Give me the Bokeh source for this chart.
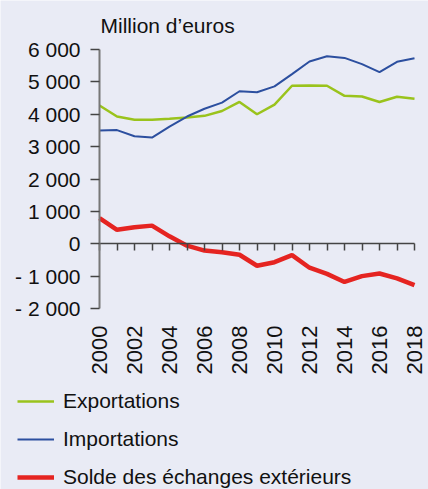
import math
from bokeh.plotting import figure
from bokeh.models import (Range1d, LinearAxis, FixedTicker, Legend, LegendItem, Label)
from bokeh.embed import file_html
from bokeh.resources import INLINE

years = list(range(2000, 2019))
exportations = [4270, 3930, 3830, 3830, 3860, 3900, 3950, 4100, 4380, 4000,
                4300, 4880, 4890, 4880, 4570, 4550, 4380, 4540, 4480]
importations = [3500, 3510, 3320, 3280, 3620, 3930, 4170, 4360, 4710, 4680,
                4860, 5240, 5630, 5790, 5740, 5550, 5300, 5620, 5730]
solde = [790, 430, 510, 560, 230, -60, -210, -260, -340, -680,
         -570, -350, -740, -930, -1180, -1000, -920, -1070, -1280]

y_ticks = [-2000, -1000, 0, 1000, 2000, 3000, 4000, 5000, 6000]
y_tick_labels = ["- 2 000", "- 1 000", "0", "1 000", "2 000", "3 000", "4 000", "5 000", "6 000"]
x_label_ticks = list(range(2000, 2019, 2))
series_names = ["Exportations", "Importations", "Solde des échanges extérieurs"]
unit_label = "Million d’euros"

BG = "#e9ebf5"
FONT = "Liberation Sans"

# layout geometry (pixels)
W, H = 428, 489
AX_TOP_PX, AX_BOTTOM_PX = 49, 308
AX_LEFT_PX, AX_RIGHT_PX = 99, 414
x0, x1 = years[0], years[-1]
ymin, ymax = y_ticks[0], y_ticks[-1]
px_per_x = (AX_RIGHT_PX - AX_LEFT_PX) / (x1 - x0)
px_per_y = (AX_BOTTOM_PX - AX_TOP_PX) / (ymax - ymin)
x_start = x0 - AX_LEFT_PX / px_per_x
x_end = x1 + (W - AX_RIGHT_PX) / px_per_x
y_start = ymin - (H - AX_BOTTOM_PX) / px_per_y
y_end = ymax + AX_TOP_PX / px_per_y

p = figure(width=W, height=H, output_backend="svg", toolbar_location=None,
           x_range=Range1d(x_start, x_end), y_range=Range1d(y_start, y_end),
           min_border_left=0, min_border_right=0, min_border_top=0, min_border_bottom=0,
           background_fill_color=BG, border_fill_color=BG, outline_line_color=None)

p.xgrid.grid_line_color = None
p.ygrid.grid_line_color = None

# unit label above the value axis
p.add_layout(Label(x=x0, y=ymax, x_offset=1, y_offset=24, text=unit_label,
                   text_font=FONT, text_font_size="21px", text_color="#111111",
                   text_baseline="middle", text_align="left"))

# y axis
ya = p.yaxis[0]
ya.fixed_location = x0
ya.bounds = (ymin, ymax)
ya.ticker = FixedTicker(ticks=y_ticks)
ya.major_label_overrides = {t: l for t, l in zip(y_ticks, y_tick_labels)}
ya.axis_line_color = "#777777"
ya.axis_line_width = 2
ya.major_tick_line_color = "#444444"
ya.major_tick_line_width = 1.5
ya.major_tick_out = 9
ya.major_tick_in = 0
ya.minor_tick_line_color = None
ya.major_label_text_font = FONT
ya.major_label_text_font_size = "21px"
ya.major_label_text_color = "#111111"
ya.major_label_standoff = 10

# x axis at zero with yearly ticks
xa = p.xaxis[0]
xa.fixed_location = 0
xa.bounds = (x0, x1)
xa.ticker = FixedTicker(ticks=years)
xa.axis_line_color = "#444444"
xa.axis_line_width = 1.5
xa.major_tick_line_color = "#444444"
xa.major_tick_line_width = 1.5
xa.major_tick_out = 7
xa.major_tick_in = 0
xa.minor_tick_line_color = None
xa.major_label_text_font_size = "1px"
xa.major_label_text_color = None
xa.major_label_standoff = 0

# year labels under the bottom of the value axis
xl = LinearAxis(ticker=FixedTicker(ticks=x_label_ticks), fixed_location=ymin, bounds=(x0, x1))
xl.axis_line_color = None
xl.major_tick_line_color = None
xl.minor_tick_line_color = None
xl.major_label_orientation = math.pi / 2
xl.major_label_text_font = FONT
xl.major_label_text_font_size = "22px"
xl.major_label_text_color = "#111111"
xl.major_label_standoff = 11
p.add_layout(xl, "below")

r_exp = p.line(years, exportations, line_color="#9ac31c", line_width=2.5)
r_imp = p.line(years, importations, line_color="#2c4f9f", line_width=2)
r_sol = p.line(years, solde, line_color="#e52421", line_width=4.5)

legend = Legend(items=[LegendItem(label=series_names[0], renderers=[r_exp]),
                       LegendItem(label=series_names[1], renderers=[r_imp]),
                       LegendItem(label=series_names[2], renderers=[r_sol])],
                location=(17, 0), orientation="vertical")
legend.background_fill_alpha = 0
legend.border_line_color = None
legend.label_text_font = FONT
legend.label_text_font_size = "21px"
legend.label_text_color = "#111111"
legend.glyph_width = 37
legend.glyph_height = 20
legend.label_height = 20
legend.spacing = 14
legend.padding = 0
legend.margin = 0
legend.label_standoff = 9
p.add_layout(legend)

open("out.html", "w").write(file_html(p, INLINE))
